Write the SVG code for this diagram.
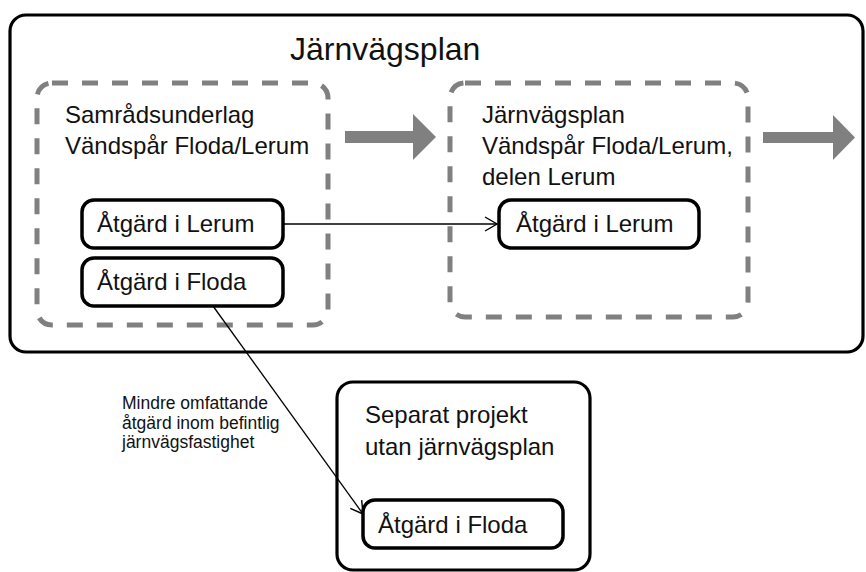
<svg xmlns="http://www.w3.org/2000/svg" width="866" height="572" viewBox="0 0 866 572">
<style>
text{font-family:"Liberation Sans",Arial,sans-serif;fill:#111}
.big{font-size:24px}
.title{font-size:32px}
.small{font-size:17.5px}
.solid{fill:#fff;stroke:#000;stroke-width:3.2}
.node{fill:#fff;stroke:#000;stroke-width:3.5}
.dash{fill:none;stroke:#808080;stroke-width:5;stroke-dasharray:16 14}
.garrow{fill:#808080}
.conn{fill:none;stroke:#000;stroke-width:1.3}
</style>
<defs>
<marker id="open" viewBox="0 0 14 16" refX="13" refY="8" markerWidth="14" markerHeight="16" markerUnits="userSpaceOnUse" orient="auto">
<path d="M1 1 L13 8 L1 15" fill="none" stroke="#000" stroke-width="1.4"/>
</marker>
</defs>
<g id="plan-frame">
<rect class="solid" x="10" y="15" width="853" height="337" rx="16"/>
<text class="title" x="290" y="60">Järnvägsplan</text>
</g>
<g id="samrad">
<rect class="dash" x="37" y="83" width="291" height="242" rx="15"/>
<text class="big" x="65" y="123">Samrådsunderlag</text>
<text class="big" x="65" y="154">Vändspår Floda/Lerum</text>
</g>
<g id="jvp">
<rect class="dash" x="450" y="83" width="298" height="234" rx="15"/>
<text class="big" x="482" y="123">Järnvägsplan</text>
<text class="big" x="482" y="154">Vändspår Floda/Lerum,</text>
<text class="big" x="482" y="185">delen Lerum</text>
</g>
<g id="lerum1">
<rect class="node" x="82" y="200" width="201" height="48" rx="12"/>
<text class="big" x="97" y="232">Åtgärd i Lerum</text>
</g>
<g id="floda1">
<rect class="node" x="82" y="258" width="201" height="48" rx="12"/>
<text class="big" x="97" y="290">Åtgärd i Floda</text>
</g>
<g id="lerum2">
<rect class="node" x="499" y="200" width="200" height="48" rx="12"/>
<text class="big" x="516" y="232">Åtgärd i Lerum</text>
</g>
<g id="separat">
<rect class="solid" x="337" y="382" width="253" height="188" rx="16"/>
<text class="big" x="365" y="423">Separat projekt</text>
<text class="big" x="365" y="455">utan järnvägsplan</text>
</g>
<g id="floda2">
<rect class="node" x="363" y="500" width="200" height="48" rx="12"/>
<text class="big" x="378" y="533">Åtgärd i Floda</text>
</g>
<g id="connectors">
<polygon class="garrow" points="345,131 413,131 413,114 436,137 413,160 413,143 345,143"/>
<polygon class="garrow" points="763,132 833,132 833,115 855,137.5 833,160 833,143 763,143"/>
<line class="conn" x1="283" y1="224" x2="497" y2="224" marker-end="url(#open)"/>
<line class="conn" x1="213" y1="306" x2="363" y2="514" marker-end="url(#open)"/>
<text class="small" x="122" y="409">Mindre omfattande</text>
<text class="small" x="122" y="428.5">åtgärd inom befintlig</text>
<text class="small" x="122" y="448">järnvägsfastighet</text>
</g>
</svg>
